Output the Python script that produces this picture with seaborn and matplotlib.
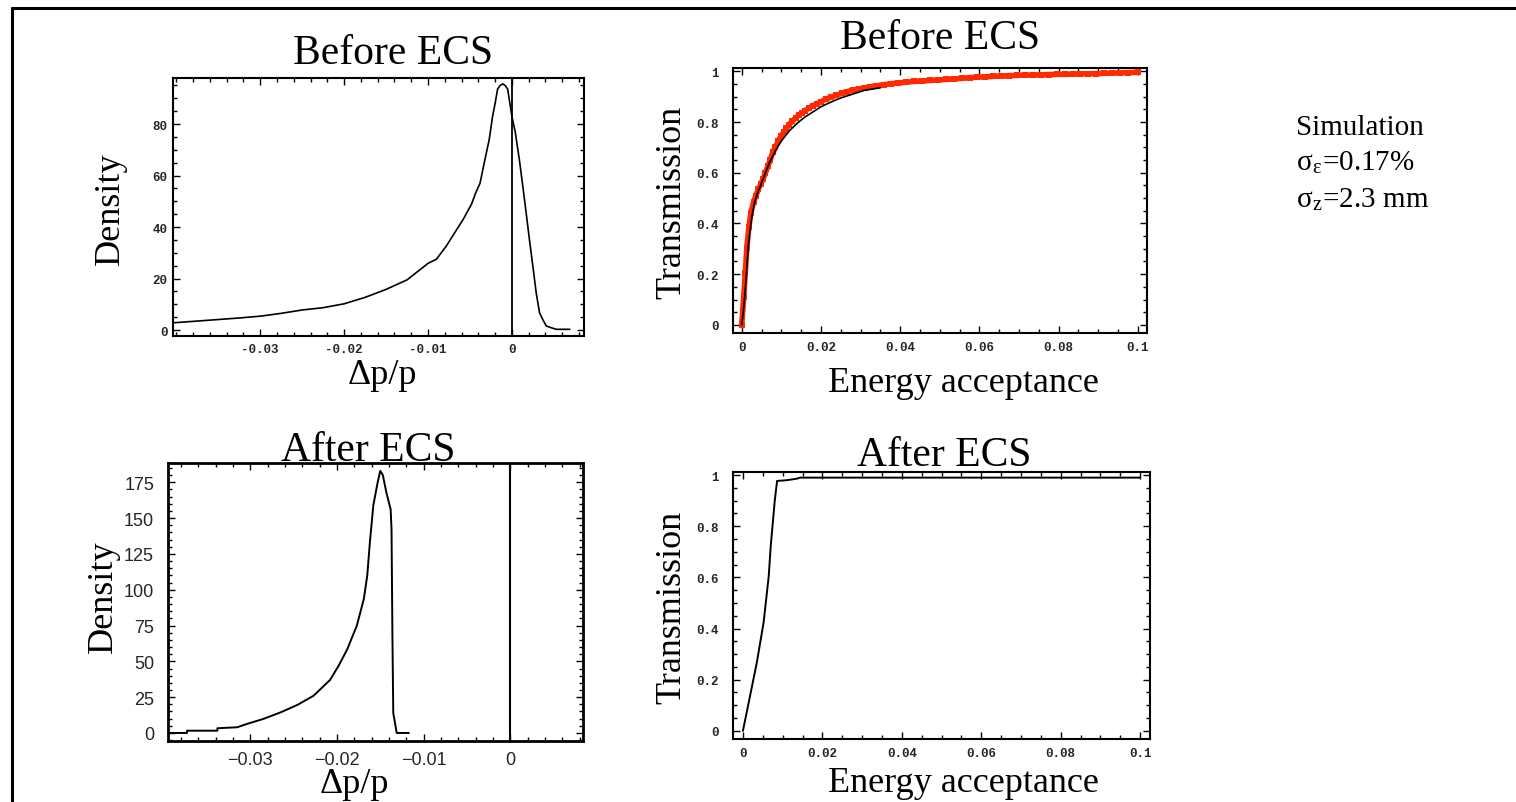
import matplotlib
matplotlib.use("Agg")
import matplotlib.pyplot as plt
from matplotlib.lines import Line2D
from matplotlib.ticker import MultipleLocator
import seaborn as sns

sns.set_theme(style="ticks")
plt.rcParams["font.family"] = ["Liberation Serif", "DejaVu Serif"]
plt.rcParams["mathtext.fontset"] = "stix"

# --- data ---
before_dp = [-0.0403, -0.0375, -0.035, -0.0325, -0.030, -0.0275, -0.025, -0.0225,
             -0.020, -0.0175, -0.015, -0.0125, -0.010, -0.009, -0.0078, -0.0068,
             -0.0058, -0.0048, -0.0043, -0.0038, -0.0032, -0.0027, -0.0023, -0.0020,
             -0.0017, -0.0014, -0.0011, -0.0008, -0.0005, 0.0, 0.0004, 0.0009,
             0.0013, 0.0017, 0.0021, 0.0025, 0.0029, 0.0033, 0.0037, 0.0041,
             0.0047, 0.0053, 0.0069]
before_density = [2.85, 3.5, 4.1, 4.7, 5.4, 6.5, 7.8, 8.7, 10.2, 12.7, 15.8, 19.5,
                  25.9, 27.5, 32.7, 37.9, 43, 49, 53.4, 57, 66.4, 74, 83, 88,
                  93.6, 95, 95.6, 95, 93.6, 83, 77, 66, 56, 45.6, 35, 24.9, 14.5,
                  6.7, 4, 1.6, 0.9, 0.3, 0.3]

after_dp = [-0.0395, -0.0373, -0.0373, -0.0338, -0.0338, -0.0315, -0.0304, -0.0285,
            -0.0265, -0.0246, -0.0227, -0.0208, -0.0198, -0.0188, -0.0177, -0.0169,
            -0.0165, -0.0162, -0.0158, -0.0153, -0.0150, -0.0147, -0.0143, -0.0138,
            -0.0137, -0.0136, -0.0135, -0.0131, -0.0117]
after_density = [0, 0, 1.6, 1.6, 3.3, 4, 6.3, 9.8, 14.4, 19.5, 26, 37, 47, 58.6, 75,
                 93.5, 110, 133, 159, 175, 183, 180, 168, 156, 142, 70, 14, 0, 0]

sim_acc = [0.0, 0.0005, 0.0009, 0.0013, 0.0018, 0.0023, 0.0030, 0.0036, 0.0042,
           0.0048, 0.0054, 0.0060, 0.0066, 0.0072, 0.0078, 0.0085, 0.0092, 0.0099,
           0.0106, 0.0113, 0.0120, 0.0128, 0.0136, 0.0144, 0.0152, 0.0160, 0.0170,
           0.0180, 0.0190, 0.0200, 0.0212, 0.0225, 0.0238, 0.0252, 0.0266, 0.0280,
           0.0295, 0.0310, 0.0325, 0.0340, 0.0358, 0.0376, 0.0395, 0.0415, 0.0435,
           0.0455, 0.0475, 0.0495, 0.0515, 0.0535, 0.0555, 0.0575, 0.0595, 0.0615,
           0.0635, 0.0655, 0.0675, 0.0695, 0.0715, 0.0735, 0.0755, 0.0775, 0.0795,
           0.0815, 0.0835, 0.0855, 0.0875, 0.0895, 0.0915, 0.0935, 0.0955, 0.0975,
           0.1000]
sim_trans = [0.000, 0.110, 0.205, 0.305, 0.385, 0.440, 0.485, 0.510, 0.535, 0.555,
             0.575, 0.600, 0.625, 0.650, 0.680, 0.700, 0.725, 0.745, 0.760, 0.775,
             0.790, 0.805, 0.815, 0.828, 0.835, 0.845, 0.855, 0.865, 0.872, 0.880,
             0.890, 0.898, 0.905, 0.913, 0.920, 0.925, 0.930, 0.935, 0.939, 0.943,
             0.947, 0.951, 0.954, 0.957, 0.960, 0.962, 0.964, 0.966, 0.968, 0.970,
             0.972, 0.975, 0.977, 0.978, 0.980, 0.981, 0.983, 0.984, 0.985, 0.985,
             0.986, 0.987, 0.988, 0.988, 0.989, 0.990, 0.990, 0.991, 0.992, 0.993,
             0.994, 0.995, 0.996]

calc_acc = [0.0, 0.0004, 0.0008, 0.0012, 0.0016, 0.0020, 0.0026, 0.0032, 0.004,
            0.005, 0.006, 0.007, 0.008, 0.009, 0.010, 0.012, 0.014, 0.016, 0.018,
            0.020, 0.022, 0.025, 0.028, 0.031, 0.035]
calc_trans = [0.0, 0.05, 0.12, 0.20, 0.30, 0.36, 0.43, 0.48, 0.52, 0.56, 0.60, 0.64,
              0.67, 0.70, 0.725, 0.765, 0.795, 0.82, 0.84, 0.86, 0.875, 0.895, 0.91,
              0.925, 0.935]

after_acc = [0.0, 0.0018, 0.0035, 0.0052, 0.0065, 0.0070, 0.0076, 0.0080, 0.0086,
             0.0111, 0.0136, 0.0144, 0.1000]
after_trans = [0.0, 0.137, 0.267, 0.423, 0.605, 0.723, 0.827, 0.898, 0.977, 0.980,
               0.986, 0.990, 0.990]

dp_ticks = [-0.03, -0.02, -0.01, 0]
dp_labels_mono = ["-0.03", "-0.02", "-0.01", "0"]
dp_labels_sans = ["\u22120.03", "\u22120.02", "\u22120.01", "0"]
dens_ticks_before = [0, 20, 40, 60, 80]
dens_ticks_after = [0, 25, 50, 75, 100, 125, 150, 175]
acc_ticks = [0, 0.02, 0.04, 0.06, 0.08, 0.1]
acc_labels = ["0", "0.02", "0.04", "0.06", "0.08", "0.1"]
tr_ticks = [0, 0.2, 0.4, 0.6, 0.8, 1]
tr_labels = ["0", "0.2", "0.4", "0.6", "0.8", "1"]

W, H = 1516, 803
fig = plt.figure(figsize=(W / 100, H / 100), dpi=100)
fig.patch.set_facecolor("white")


def box(l, r, t, b):
    return [l / W, 1 - b / H, (r - l) / W, (b - t) / H]


mono = dict(family="Liberation Mono", weight="bold", size=9)


def frame(ax, lw=1.5):
    ax.set_facecolor("white")
    ax.grid(False)
    for s in ax.spines.values():
        s.set_visible(True)
        s.set_color("black")
        s.set_linewidth(lw)
    ax.tick_params(which="both", direction="in", top=True, right=True,
                   color="black", width=1.0)
    ax.tick_params(which="major", length=5)
    ax.tick_params(which="minor", length=3)
    ax.set_xlabel("")
    ax.set_ylabel("")


# top left: density before ECS
ax1 = fig.add_axes(box(173, 584, 79, 337))
sns.lineplot(x=before_dp, y=before_density, ax=ax1, color="black", lw=1.2,
             estimator=None, sort=False)
ax1.axvline(0, color="black", lw=1.3)
ax1.set_xlim(-0.0404, 0.0086)
ax1.set_ylim(-2.3, 97.9)
frame(ax1)
ax1.set_xticks(dp_ticks, dp_labels_mono, **mono)
ax1.set_yticks(dens_ticks_before, [str(v) for v in dens_ticks_before], **mono)
ax1.xaxis.set_minor_locator(MultipleLocator(0.002))
ax1.yaxis.set_minor_locator(MultipleLocator(5))
ax1.tick_params(axis="x", pad=5)
ax1.tick_params(axis="y", pad=4)

# top right: transmission before ECS
ax2 = fig.add_axes(box(733, 1147, 69, 334))
sns.lineplot(x=sim_acc, y=sim_trans, ax=ax2, color="#ff2a00", lw=4.0,
             estimator=None, sort=False)
sns.scatterplot(x=sim_acc, y=sim_trans, ax=ax2, color="#ff2a00", marker="s",
                s=22, linewidth=0)
sns.lineplot(x=calc_acc, y=calc_trans, ax=ax2, color="black", lw=1.2,
             estimator=None, sort=False)
ax2.set_xlim(-0.0022, 0.1023)
ax2.set_ylim(-0.032, 1.013)
frame(ax2)
ax2.set_xticks(acc_ticks, acc_labels, **mono)
ax2.set_yticks(tr_ticks, tr_labels, **mono)
ax2.xaxis.set_minor_locator(MultipleLocator(0.005))
ax2.yaxis.set_minor_locator(MultipleLocator(0.05))
ax2.tick_params(axis="x", pad=6)
ax2.tick_params(axis="y", pad=10)

# bottom left: density after ECS
ax3 = fig.add_axes(box(168, 583, 464, 742))
sns.lineplot(x=after_dp, y=after_density, ax=ax3, color="black", lw=1.4,
             estimator=None, sort=False)
ax3.axvline(0, color="black", lw=1.5)
ax3.set_xlim(-0.0395, 0.0084)
ax3.set_ylim(-5.6, 188.5)
frame(ax3, lw=2.0)
sans = dict(family="Liberation Sans", size=13)
ax3.set_xticks(dp_ticks, dp_labels_sans, **sans)
ax3.set_yticks(dens_ticks_after, [str(v) for v in dens_ticks_after], **sans)
ax3.xaxis.set_minor_locator(MultipleLocator(0.002))
ax3.yaxis.set_minor_locator(MultipleLocator(5))
ax3.tick_params(axis="x", pad=7)
ax3.tick_params(axis="y", pad=10)

# bottom right: transmission after ECS
ax4 = fig.add_axes(box(733, 1150, 473, 740))
sns.lineplot(x=after_acc, y=after_trans, ax=ax4, color="black", lw=1.4,
             estimator=None, sort=False)
ax4.set_xlim(-0.0025, 0.1025)
ax4.set_ylim(-0.032, 1.012)
frame(ax4)
ax4.set_xticks(acc_ticks, acc_labels, **mono)
ax4.set_yticks(tr_ticks, tr_labels, **mono)
ax4.xaxis.set_minor_locator(MultipleLocator(0.005))
ax4.yaxis.set_minor_locator(MultipleLocator(0.05))
ax4.tick_params(axis="x", pad=6)
ax4.tick_params(axis="y", pad=10)


def ftext(x, y, s, size, **kw):
    fig.text(x / W, 1 - y / H, s, fontsize=size, color="black", **kw)


# titles and axis labels
ftext(393, 64, "Before ECS", 30, ha="center", va="baseline")
ftext(940, 49, "Before ECS", 30, ha="center", va="baseline")
ftext(368, 461, "After ECS", 30, ha="center", va="baseline")
ftext(944, 466, "After ECS", 30, ha="center", va="baseline")

ftext(110, 209, "Density", 26, ha="center", va="center", rotation=90)
ftext(103, 597, "Density", 26, ha="center", va="center", rotation=90)
ftext(672, 202, "Transmission", 26, ha="center", va="center", rotation=90)
ftext(672, 607, "Transmission", 26, ha="center", va="center", rotation=90)
ftext(382, 384, "\u0394p/p", 26, ha="center", va="baseline")
ftext(354, 793, "\u0394p/p", 26, ha="center", va="baseline")
ftext(963, 392, "Energy acceptance", 26, ha="center", va="baseline")
ftext(963, 792, "Energy acceptance", 26, ha="center", va="baseline")

ftext(1296, 135, "Simulation", 21, ha="left", va="baseline")
ftext(1296, 170, "\u03c3$_{\\mathregular{\u03b5}}$=0.17%", 21, ha="left", va="baseline")
ftext(1296, 207, "\u03c3$_{\\mathregular{z}}$=2.3 mm", 21, ha="left", va="baseline")

# slide border
fig.add_artist(Line2D([12 / W, 1.0], [1 - 9 / H, 1 - 9 / H], color="black", lw=2.2,
                      transform=fig.transFigure))
fig.add_artist(Line2D([12 / W, 12 / W], [0.0, 1 - 9 / H], color="black", lw=2.2,
                      transform=fig.transFigure))

fig.savefig("out.png", dpi=100, facecolor="white")
